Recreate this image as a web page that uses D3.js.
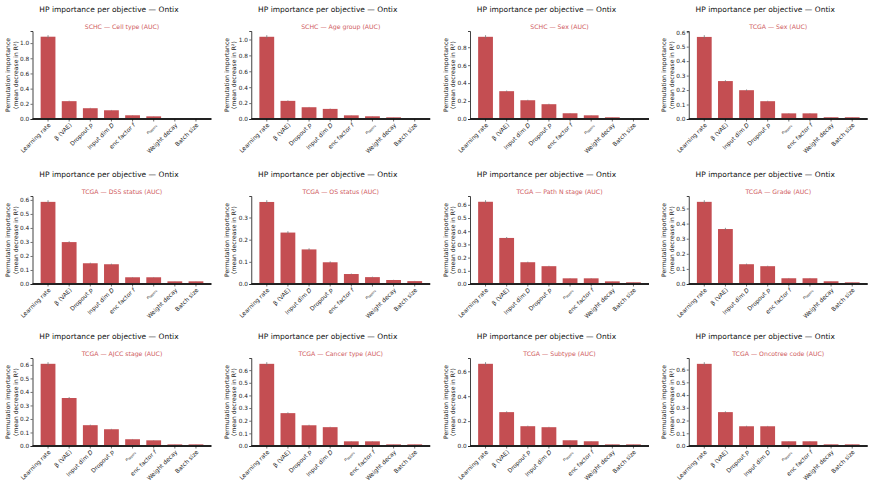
<!DOCTYPE html>
<html>
<head>
<meta charset="utf-8">
<script src="https://cdn.jsdelivr.net/npm/d3@7"></script>
<style>
  html, body { margin: 0; padding: 0; background: #fff; }
  svg { display: block; font-family: "DejaVu Sans", sans-serif; }
</style>
</head>
<body>
<svg id="chart" width="875" height="504"></svg>
<script>
// ---- data ----
var datasets = ["SCHC", "SCHC", "SCHC", "TCGA",
                "TCGA", "TCGA", "TCGA", "TCGA",
                "TCGA", "TCGA", "TCGA", "TCGA"];
var objectives = ["Cell type (AUC)", "Age group (AUC)", "Sex (AUC)", "Sex (AUC)",
                  "DSS status (AUC)", "OS status (AUC)", "Path N stage (AUC)", "Grade (AUC)",
                  "AJCC stage (AUC)", "Cancer type (AUC)", "Subtype (AUC)", "Oncotree code (AUC)"];
// hp keys: lr, beta, drop, dim, enc, nl, wd, bs
var hpOrder = [
  ["lr", "beta", "drop", "dim", "enc", "nl", "wd", "bs"],
  ["lr", "beta", "drop", "dim", "enc", "nl", "wd", "bs"],
  ["lr", "beta", "dim", "drop", "enc", "nl", "wd", "bs"],
  ["lr", "beta", "dim", "drop", "nl", "enc", "wd", "bs"],
  ["lr", "beta", "drop", "dim", "enc", "nl", "wd", "bs"],
  ["lr", "beta", "dim", "drop", "enc", "nl", "wd", "bs"],
  ["lr", "beta", "dim", "drop", "nl", "enc", "wd", "bs"],
  ["lr", "beta", "dim", "drop", "enc", "nl", "wd", "bs"],
  ["lr", "beta", "dim", "drop", "nl", "enc", "wd", "bs"],
  ["lr", "beta", "drop", "dim", "nl", "enc", "wd", "bs"],
  ["lr", "beta", "drop", "dim", "nl", "enc", "wd", "bs"],
  ["lr", "beta", "drop", "dim", "nl", "enc", "wd", "bs"]
];
var importance = [
  [1.084, 0.235, 0.142, 0.115, 0.049, 0.035, 0.010, 0.008],
  [1.034, 0.228, 0.148, 0.127, 0.046, 0.034, 0.021, 0.008],
  [0.916, 0.310, 0.209, 0.165, 0.064, 0.041, 0.019, 0.008],
  [0.567, 0.262, 0.199, 0.123, 0.039, 0.039, 0.012, 0.012],
  [0.586, 0.299, 0.148, 0.141, 0.048, 0.048, 0.019, 0.019],
  [0.370, 0.232, 0.156, 0.098, 0.045, 0.031, 0.018, 0.013],
  [0.623, 0.349, 0.165, 0.135, 0.043, 0.043, 0.020, 0.013],
  [0.544, 0.364, 0.131, 0.118, 0.038, 0.038, 0.018, 0.011],
  [0.608, 0.355, 0.154, 0.124, 0.050, 0.042, 0.012, 0.012],
  [0.650, 0.260, 0.164, 0.149, 0.037, 0.037, 0.013, 0.013],
  [0.660, 0.272, 0.159, 0.151, 0.046, 0.038, 0.013, 0.013],
  [0.645, 0.266, 0.155, 0.155, 0.037, 0.037, 0.013, 0.013]
];
var errors = [
  [0.020, 0.006, 0.005, 0.004, 0.003, 0.002, 0.001, 0.001],
  [0.020, 0.006, 0.004, 0.004, 0.002, 0.002, 0.001, 0.001],
  [0.018, 0.007, 0.005, 0.005, 0.003, 0.002, 0.001, 0.001],
  [0.012, 0.006, 0.005, 0.003, 0.002, 0.002, 0.001, 0.001],
  [0.012, 0.006, 0.004, 0.004, 0.002, 0.002, 0.001, 0.001],
  [0.008, 0.006, 0.005, 0.004, 0.002, 0.002, 0.001, 0.001],
  [0.012, 0.007, 0.004, 0.003, 0.002, 0.002, 0.001, 0.001],
  [0.011, 0.008, 0.004, 0.003, 0.002, 0.002, 0.001, 0.001],
  [0.012, 0.007, 0.004, 0.003, 0.002, 0.002, 0.001, 0.001],
  [0.013, 0.006, 0.004, 0.003, 0.002, 0.002, 0.001, 0.001],
  [0.013, 0.006, 0.004, 0.003, 0.002, 0.002, 0.001, 0.001],
  [0.013, 0.006, 0.004, 0.003, 0.002, 0.002, 0.001, 0.001]
];
var tickSteps = [0.2, 0.2, 0.2, 0.1, 0.1, 0.1, 0.1, 0.1, 0.1, 0.1, 0.2, 0.1];

var figTitle = "HP importance per objective \u2014 Ontix";
var yLabelLines = ["Permutation importance", "(mean decrease in R\u00b2)"];

// ---- layout ----
var colOff = [0, 218.75, 437.5, 656.25];
var rowOff = [0, 165, 327];
var barColor = "#c44e52";
var subColor = "#cf5b60";

var svg = d3.select("#chart");

// tick label writer: plain text + italic / subscript bits
function writeLabel(sel, key){
  var tx = sel.append("text").attr("text-anchor", "end").attr("font-size", 5.9).attr("fill", "#222");
  if(key == "lr") tx.text("Learning rate");
  else if(key == "beta") tx.text("\u03b2 (VAE)");
  else if(key == "wd") tx.text("Weight decay");
  else if(key == "bs") tx.text("Batch size");
  else if(key == "drop"){ tx.append("tspan").text("Dropout "); tx.append("tspan").attr("font-style", "italic").text("p"); }
  else if(key == "dim"){ tx.append("tspan").text("Input dim "); tx.append("tspan").attr("font-style", "italic").text("D"); }
  else if(key == "enc"){ tx.append("tspan").text("enc factor "); tx.append("tspan").attr("font-style", "italic").text("f"); }
  else if(key == "nl"){
    tx.append("tspan").attr("font-style", "italic").attr("font-size", 4.2).text("n");
    tx.append("tspan").attr("font-size", 3.2).attr("dy", 1).text("layers");
  }
  return tx;
}

importance.forEach(function(vals, p){
  var col = p % 4, row = Math.floor(p / 4);
  var ox = colOff[col], oy = rowOff[row];
  var left = ox + 32.5, right = ox + 211.5;
  var top = oy + 31, bottom = oy + 119;
  var g = svg.append("g");

  // figure title + subtitle
  g.append("text").attr("x", ox + 109).attr("y", oy + 12)
    .attr("text-anchor", "middle").attr("font-size", 7.5).attr("fill", "#111")
    .text(figTitle);
  g.append("text").attr("x", (left + right) / 2).attr("y", oy + 29)
    .attr("text-anchor", "middle").attr("font-size", 6.2).attr("fill", subColor)
    .text(datasets[p] + " \u2014 " + objectives[p]);

  // matplotlib-like limits: bars width 0.7, 5% margins
  var n = vals.length;
  var xmin = -0.35 - 0.05 * (n - 1 + 0.7), xmax = n - 1 + 0.35 + 0.05 * (n - 1 + 0.7);
  var x = d3.scaleLinear().domain([xmin, xmax]).range([left, right]);
  var ymax = d3.max(vals, function(v, i){ return v + errors[p][i]; }) * 1.05;
  var y = d3.scaleLinear().domain([0, ymax]).range([bottom, top]);

  // bars
  g.selectAll("rect.bar").data(vals).enter().append("rect")
    .attr("class", "bar")
    .attr("x", function(d, i){ return x(i - 0.35); })
    .attr("width", function(){ return x(0.35) - x(-0.35); })
    .attr("y", function(d){ return y(d); })
    .attr("height", function(d){ return y(0) - y(d); })
    .attr("fill", barColor);

  // error bars
  g.selectAll("line.err").data(vals).enter().append("line")
    .attr("class", "err")
    .attr("x1", function(d, i){ return x(i); }).attr("x2", function(d, i){ return x(i); })
    .attr("y1", function(d, i){ return y(d - errors[p][i]); })
    .attr("y2", function(d, i){ return y(d + errors[p][i]); })
    .attr("stroke", "#777").attr("stroke-width", 0.8);

  // y axis
  var ticks = d3.range(0, ymax + 1e-9, tickSteps[p]);
  var yAxis = g.append("g").attr("transform", "translate(" + left + ",0)")
    .call(d3.axisLeft(y).tickValues(ticks).tickFormat(d3.format(".1f")).tickSizeOuter(0).tickSize(2).tickPadding(1.2));
  yAxis.select(".domain").attr("stroke", "#111").attr("stroke-width", 0.8);
  yAxis.selectAll(".tick line").attr("stroke", "#111").attr("stroke-width", 0.6);
  yAxis.selectAll(".tick text").attr("font-size", 5.8).attr("fill", "#222").attr("font-family", "DejaVu Sans");

  // x baseline (spine + zero line)
  g.append("line").attr("x1", left).attr("x2", right).attr("y1", y(0)).attr("y2", y(0))
    .attr("stroke", "#222").attr("stroke-width", 1.8);

  // x ticks + rotated labels
  hpOrder[p].forEach(function(key, i){
    g.append("line").attr("x1", x(i)).attr("x2", x(i)).attr("y1", bottom).attr("y2", bottom + 2.5)
      .attr("stroke", "#111").attr("stroke-width", 0.6);
    var lab = writeLabel(g, key);
    lab.attr("transform", "translate(" + (x(i) + 1.5) + "," + (bottom + 5) + ") rotate(-45)")
      .attr("dy", "0.35em");
  });

  // y label (two lines)
  var cy = (top + bottom) / 2;
  yLabelLines.forEach(function(t, k){
    g.append("text").attr("transform", "translate(" + (ox + 10 + 7.6 * k) + "," + cy + ") rotate(-90)")
      .attr("text-anchor", "middle").attr("font-size", 6.1).attr("fill", "#222").text(t);
  });
});
</script>
</body>
</html>
